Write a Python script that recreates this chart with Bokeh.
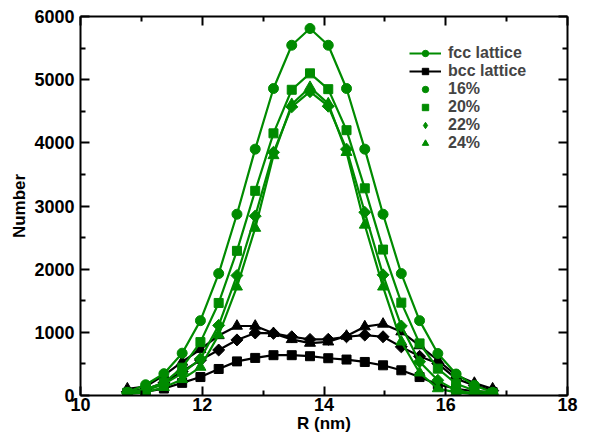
import math
from bokeh.plotting import figure
from bokeh.models import LinearAxis, Legend, LegendItem, FixedTicker, Range1d
from bokeh.embed import file_html
from bokeh.resources import INLINE

# ---- data ----
R = [10.77, 11.07, 11.37, 11.67, 11.97, 12.27, 12.57, 12.87, 13.17, 13.47, 13.77,
     14.07, 14.37, 14.67, 14.97, 15.27, 15.57, 15.87, 16.17, 16.47, 16.77]

fcc16 = [50, 170, 345, 670, 1185, 1930, 2870, 3900, 4860, 5545, 5810,
         5545, 4860, 3900, 2870, 1930, 1185, 665, 340, 160, 50]
fcc20 = [45, 100, 200, 440, 845, 1465, 2290, 3240, 4150, 4840, 5100,
         4850, 4200, 3280, 2310, 1470, 825, 425, 186, 80, 37]
fcc22 = [40, 80, 180, 350, 580, 1110, 1900, 2840, 3850, 4570, 4810,
         4580, 3900, 2900, 1910, 1100, 535, 240, 80, 30, 20]
fcc24 = [20, 50, 130, 255, 450, 960, 1720, 2650, 3800, 4610, 4880,
         4620, 3850, 2700, 1720, 850, 360, 110, 50, 20, 15]

bcc20 = [40, 60, 110, 200, 292, 420, 540, 595, 638, 638, 622,
         590, 569, 531, 478, 399, 292, 175, 107, 64, 53]
bcc22 = [60, 100, 200, 380, 560, 720, 880, 990, 984, 930, 888,
         890, 930, 957, 930, 770, 620, 505, 266, 160, 80]
bcc24 = [107, 143, 320, 531, 730, 950, 1100, 1100, 984, 888, 830,
         850, 941, 1090, 1132, 1010, 790, 558, 319, 196, 107]

x_ticks = [10, 12, 14, 16, 18]
x_minor = [11, 13, 15, 17]
y_ticks = [0, 1000, 2000, 3000, 4000, 5000, 6000]
y_minor = [500, 1500, 2500, 3500, 4500, 5500]

GREEN = "#008b00"
BLACK = "#000000"
FONT = "Liberation Sans"

p = figure(width=588, height=435, output_backend="svg", toolbar_location=None,
           x_range=Range1d(10, 18), y_range=Range1d(0, 6000),
           min_border_left=80, min_border_right=21, min_border_top=16, min_border_bottom=40)
p.outline_line_color = None
p.grid.visible = False
p.background_fill_color = "white"
p.border_fill_color = "white"

def style_axis(ax):
    ax.axis_line_width = 2
    ax.axis_line_color = "black"
    ax.major_tick_in = 9
    ax.major_tick_out = 0
    ax.minor_tick_in = 5
    ax.minor_tick_out = 0
    ax.major_tick_line_width = 2
    ax.minor_tick_line_width = 2
    ax.major_label_text_font = FONT
    ax.major_label_text_font_style = "bold"
    ax.major_label_text_font_size = "18px"
    ax.major_label_text_color = "black"
    ax.axis_label_text_font = FONT
    ax.axis_label_text_font_style = "bold"
    ax.axis_label_text_font_size = "17px"
    ax.axis_label_text_color = "black"

xt = FixedTicker(ticks=x_ticks, minor_ticks=x_minor)
yt = FixedTicker(ticks=y_ticks, minor_ticks=y_minor)

p.xaxis.ticker = xt
p.yaxis.ticker = yt
style_axis(p.xaxis[0])
style_axis(p.yaxis[0])
p.xaxis.axis_label = "R (nm)"
p.yaxis.axis_label = "Number"
p.xaxis.major_label_standoff = 2
p.xaxis.axis_label_standoff = 0
p.yaxis.major_label_standoff = 6
p.yaxis.axis_label_standoff = 2

top = LinearAxis(ticker=xt)
style_axis(top)
top.major_label_overrides = {t: "" for t in x_ticks}
top.major_label_standoff = 0
p.add_layout(top, "above")
right = LinearAxis(ticker=yt)
style_axis(right)
right.major_label_overrides = {t: "" for t in y_ticks}
right.major_label_standoff = 0
p.add_layout(right, "right")

LW = 2.2

def series(y, color, marker, size, angle=0.0):
    ln = p.line(R, y, line_color=color, line_width=LW)
    sc = p.scatter(R, y, marker=marker, size=size, angle=angle,
                   fill_color=color, line_color=color)
    return ln, sc

# bcc (black) underneath
b20 = series(bcc20, BLACK, "square", 9)
b22 = series(bcc22, BLACK, "square", 8.5, math.pi / 4)
b24 = series(bcc24, BLACK, "triangle", 11)
# fcc (green)
g24 = series(fcc24, GREEN, "triangle", 11)
g22 = series(fcc22, GREEN, "square", 8.5, math.pi / 4)
g20 = series(fcc20, GREEN, "square", 9)
g16 = series(fcc16, GREEN, "circle", 10)

# legend-only swatch for the diamond marker (a NaN point, never drawn in the plot)
diamond_swatch = p.scatter(x=[float("nan")], y=[float("nan")], marker="diamond", size=14,
                           fill_color=GREEN, line_color=GREEN)

legend = Legend(items=[
    LegendItem(label="fcc lattice", renderers=[g16[0], g16[1]]),
    LegendItem(label="bcc lattice", renderers=[b20[0], b20[1]]),
    LegendItem(label="16%", renderers=[g16[1]]),
    LegendItem(label="20%", renderers=[g20[1]]),
    LegendItem(label="22%", renderers=[diamond_swatch]),
    LegendItem(label="24%", renderers=[g24[1]]),
], location=(329, 243))
legend.border_line_alpha = 0
legend.background_fill_alpha = 0
legend.label_text_font = FONT
legend.label_text_font_style = "bold"
legend.label_text_font_size = "16px"
legend.label_height = 16
legend.glyph_height = 16
legend.glyph_width = 32
legend.label_standoff = 7
legend.spacing = 0
legend.padding = 0
legend.margin = 0
p.add_layout(legend)

open("out.html", "w").write(file_html(p, INLINE))
